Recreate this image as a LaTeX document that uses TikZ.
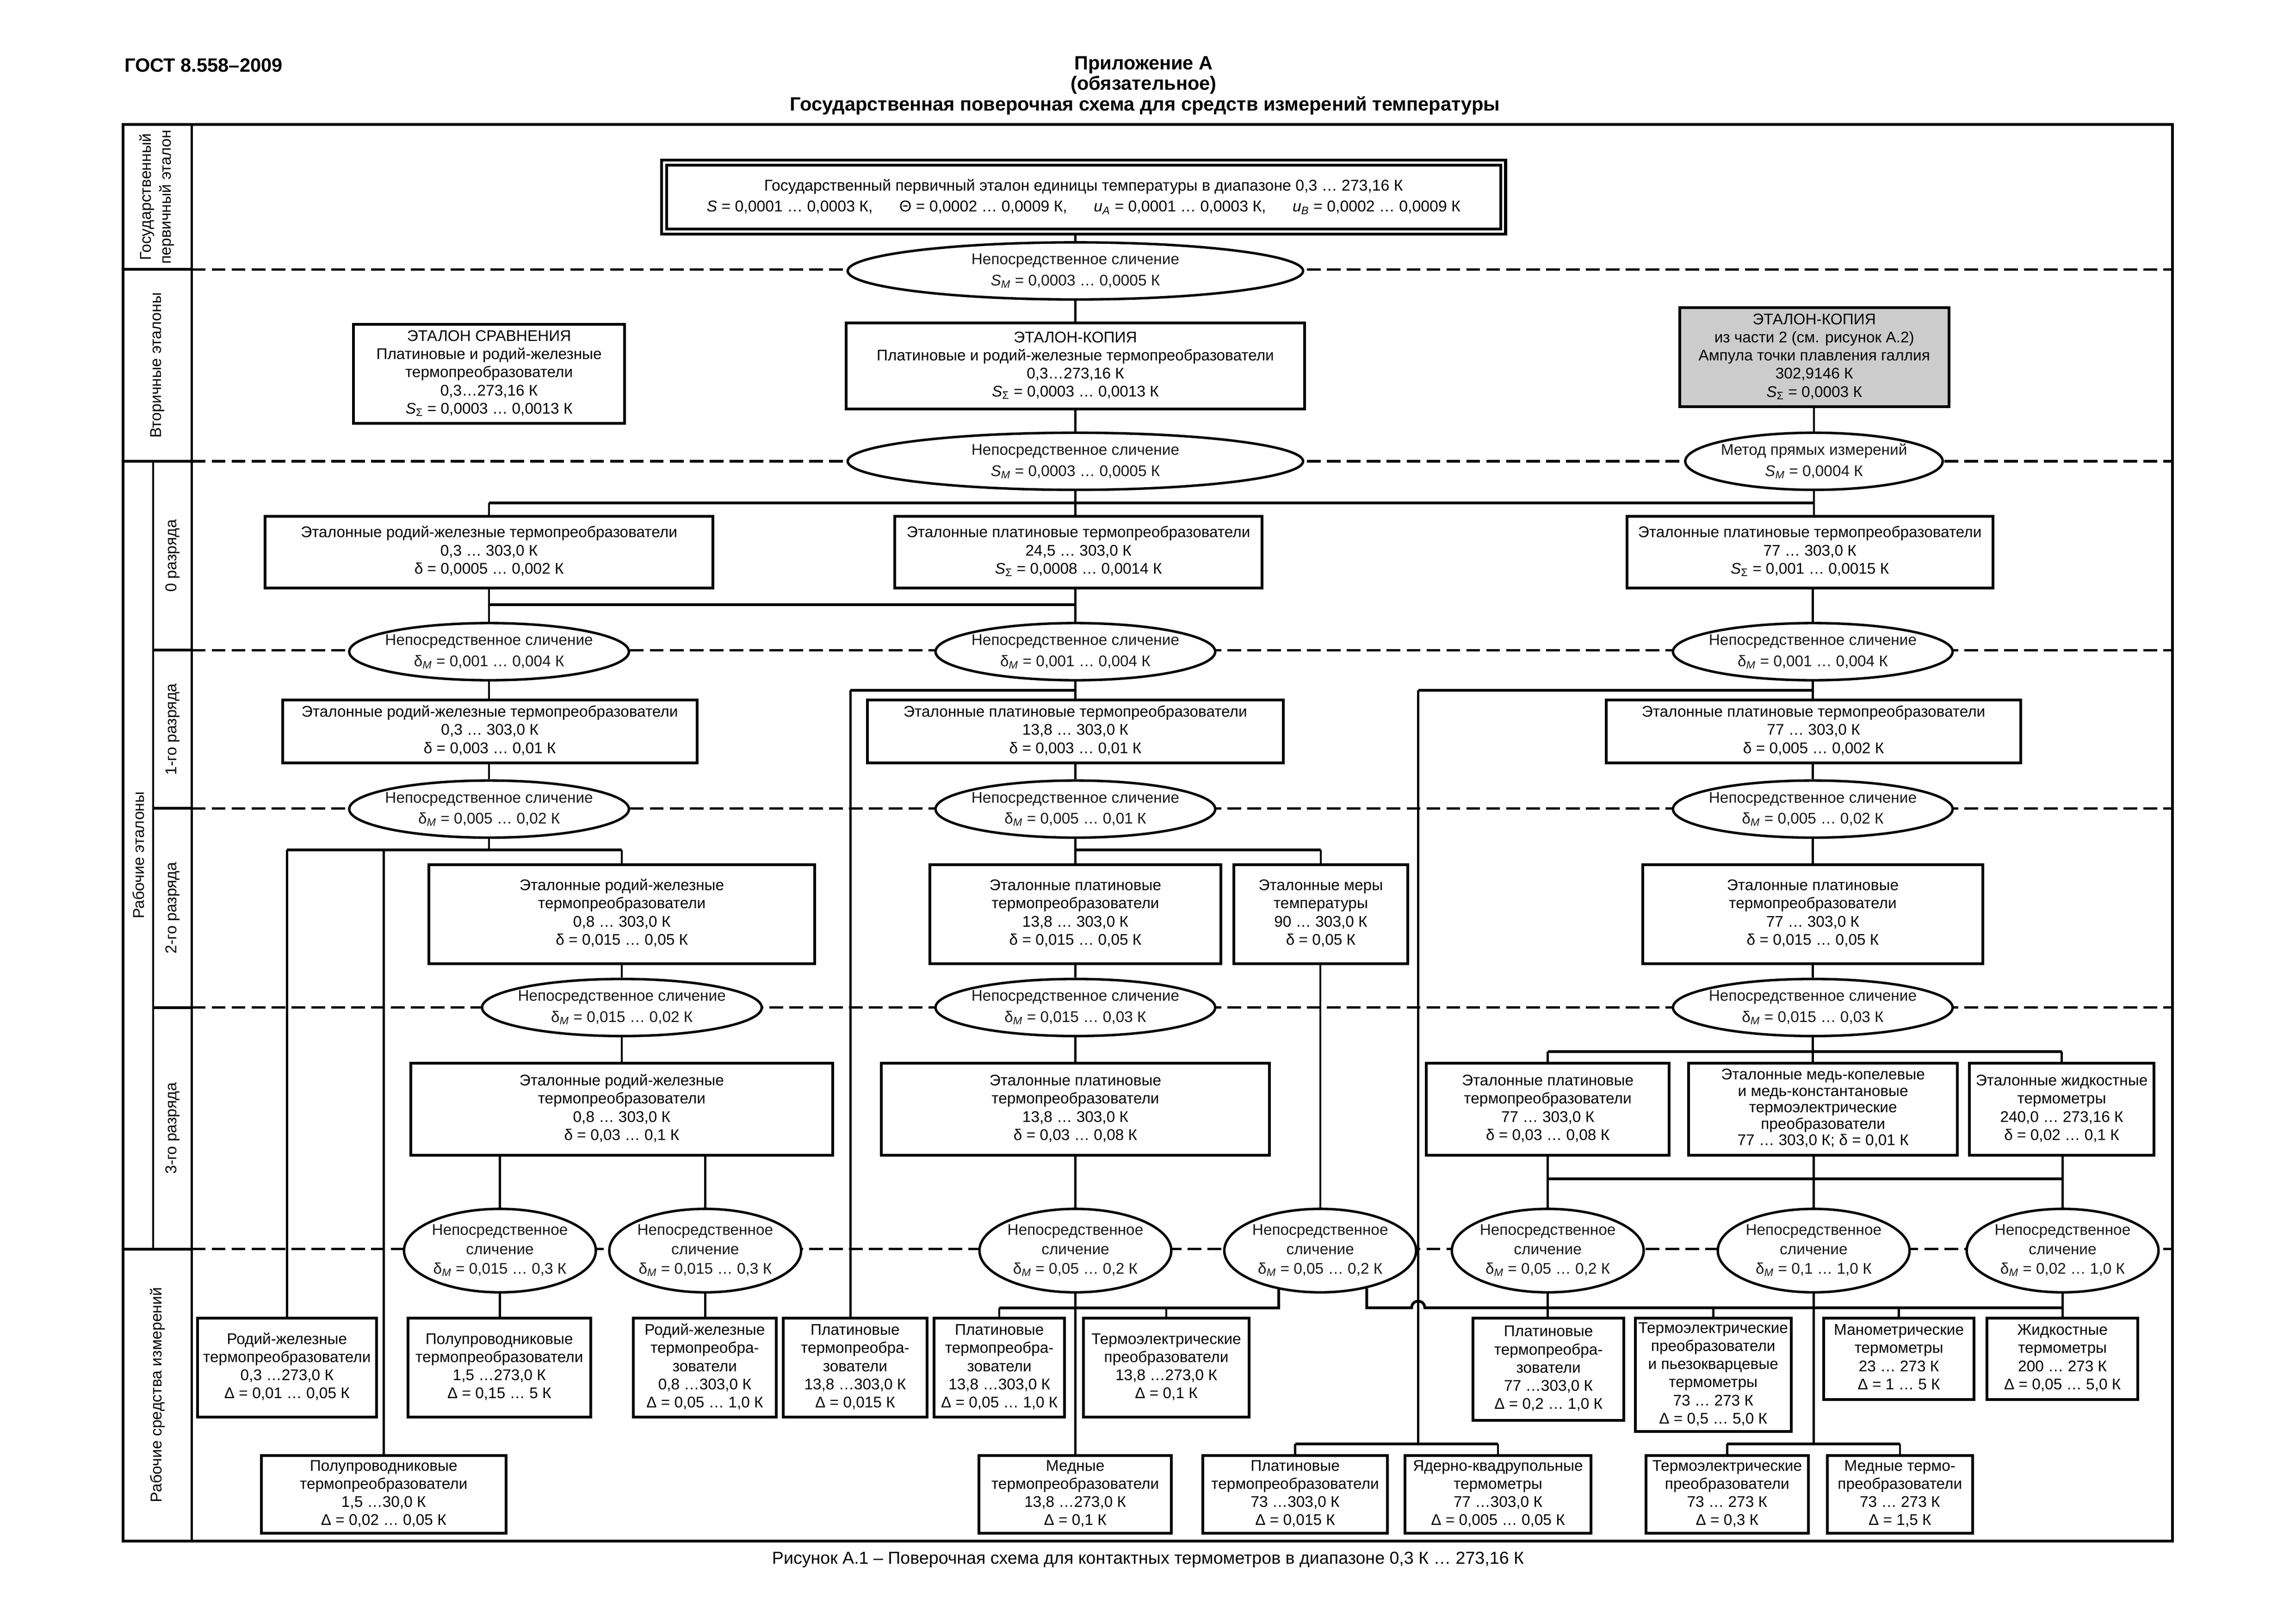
\documentclass[tikz,border=0pt]{standalone}
\usepackage{fontspec}
\setmainfont{Liberation Sans}
\usetikzlibrary{shapes.geometric,calc}
\newcommand{\tb}[1]{\makebox[0pt]{\begin{tabular}{@{}c@{}}#1\end{tabular}}}
\newcommand{\smeas}{\textit{S}\textsubscript{\textit{M}}}
\newcommand{\dmeas}{δ\textsubscript{\textit{M}}}
\newcommand{\ssum}{\textit{S}\textsubscript{Σ}}
\newcommand{\bxfont}{\fontsize{15}{17.6}\selectfont}
\newcommand{\ovfont}{\fontsize{15}{20.6}\selectfont}
\newcommand{\sdfont}{\fontsize{15.2}{19.5}\selectfont}
\newcommand{\hdfont}{\bfseries\fontsize{18.7}{20}\selectfont}
\begin{document}
\begin{tikzpicture}[x=0.5mm,y=0.5mm]
	\tikzstyle{every node}+=[inner sep=0pt]
	\tikzstyle{head}=[font=\hdfont]
	\tikzstyle{box}=[draw, line width=2.7pt, fill=white, font=\bxfont]
	\tikzstyle{oval}=[draw, ellipse, line width=2.4pt, fill=white, inner ysep=-6pt, font=\ovfont, text=black!90]
	\tikzstyle{ring}=[oval, font=\fontsize{15}{18.9}\selectfont]
	\tikzset{sz/.style 2 args={minimum width=#1*0.5mm, minimum height=#2*0.5mm}}
	\tikzstyle{stem}=[line width=2pt]
	\tikzstyle{bus}=[line width=2.7pt]
	\tikzstyle{rowline}=[line width=2.3pt, dash pattern=on 4.7mm off 2.1mm]
	\tikzstyle{side}=[rotate=90, align=center, font=\sdfont]
	\useasboundingbox (0,0) rectangle (1568,-1108.3);
	\node [head, anchor=west] (gost) at (85,-44.5) {ГОСТ 8.558–2009};
	\node [head] (app) at (781,-44.5) {Приложение А};
	\node [head] (oblig) at (781,-58) {(обязательное)};
	\node [head] (title) at (782,-72) {Государственная поверочная схема для средств измерений температуры};
	\node [font=\fontsize{16.9}{19}\selectfont] (caption) at (784,-1065) {Рисунок А.1 – Поверочная схема для контактных термометров в диапазоне 0,3 К … 273,16 К};
	\draw [line width=2.7pt] (84,-85) rectangle (1483.5,-1052.5);
	\draw [line width=2pt] (131,-85) -- (131,-1052.5);
	\draw [line width=2pt] (104.5,-315) -- (104.5,-853);
	\foreach \y in {184,315,853}
		\draw [line width=2.7pt] (84,-\y) -- (131,-\y);
	\foreach \y in {444,552,688}
		\draw [line width=2.7pt] (104.5,-\y) -- (131,-\y);
	\foreach \y in {184,315,444,552,688,853}
		\draw [rowline] (131,-\y) -- (1483.5,-\y);
	\node [side] (lprim) at (107,-134.5) {Государственный\\первичный эталон};
	\node [side] (lsec) at (107.5,-249.5) {Вторичные эталоны};
	\node [side] (lwork) at (94.5,-584) {Рабочие эталоны};
	\node [side] (lzero) at (118,-379.5) {0 разряда};
	\node [side] (lone) at (118,-498) {1-го разряда};
	\node [side] (ltwo) at (118,-620) {2-го разряда};
	\node [side] (lthree) at (118,-770.5) {3-го разряда};
	\node [side] (lwmi) at (107.5,-952.5) {Рабочие средства измерений};
	\node [box, double, double distance=2.1pt, line width=2.8pt, sz={573}{47.2}, font=\fontsize{15.2}{20.5}\selectfont] (prim) at (740,-134.6) {\tb{Государственный первичный эталон единицы температуры в диапазоне 0,3 … 273,16 К\\\textit{S} = 0,0001 … 0,0003 К,\hspace{1.7em}Θ = 0,0002 … 0,0009 К,\hspace{1.7em}\textit{u}\textsubscript{\textit{A}} = 0,0001 … 0,0003 К,\hspace{1.7em}\textit{u}\textsubscript{\textit{B}} = 0,0002 … 0,0009 К}};
	\node [oval, sz={311}{39}] (es1) at (734.4,-185) {\tb{Непосредственное сличение\\\smeas{} = 0,0003 … 0,0005 К}};
	\node [box, sz={185}{67.7}] (cmp) at (334,-255.3) {\tb{ЭТАЛОН СРАВНЕНИЯ\\Платиновые и родий-железные\\термопреобразователи\\0,3…273,16 К\\\ssum{} = 0,0003 … 0,0013 К}};
	\node [box, sz={313}{58.7}] (cpy) at (734.4,-250) {\tb{ЭТАЛОН-КОПИЯ\\Платиновые и родий-железные термопреобразователи\\0,3…273,16 К\\\ssum{} = 0,0003 … 0,0013 К}};
	\node [box, fill=black!20, sz={184}{67.7}] (gal) at (1239,-243.9) {\tb{ЭТАЛОН-КОПИЯ\\из части 2 (см. рисунок А.2)\\Ампула точки плавления галлия\\302,9146 К\\\ssum{} = 0,0003 К}};
	\node [oval, sz={311}{39}] (es2) at (734.4,-315) {\tb{Непосредственное сличение\\\smeas{} = 0,0003 … 0,0005 К}};
	\node [oval, sz={175.8}{39}] (em) at (1238.8,-315) {\tb{Метод прямых измерений\\\smeas{} = 0,0004 К}};
	\node [box, sz={306}{49}] (r0a) at (334,-377) {\tb{Эталонные родий-железные термопреобразователи\\0,3 … 303,0 К\\δ = 0,0005 … 0,002 К}};
	\node [box, sz={251}{49}] (r0b) at (736.5,-377) {\tb{Эталонные платиновые термопреобразователи\\24,5 … 303,0 К\\\ssum{} = 0,0008 … 0,0014 К}};
	\node [box, sz={250}{49}] (r0c) at (1236,-377) {\tb{Эталонные платиновые термопреобразователи\\77 … 303,0 К\\\ssum{} = 0,001 … 0,0015 К}};
	\node [oval, sz={191}{39}] (e1a) at (334,-445) {\tb{Непосредственное сличение\\\dmeas{} = 0,001 … 0,004 К}};
	\node [oval, sz={191}{39}] (e1b) at (734.4,-445) {\tb{Непосредственное сличение\\\dmeas{} = 0,001 … 0,004 К}};
	\node [oval, sz={191}{39}] (e1c) at (1238,-445) {\tb{Непосредственное сличение\\\dmeas{} = 0,001 … 0,004 К}};
	\node [box, sz={283}{43}] (r1a) at (334.5,-499.5) {\tb{Эталонные родий-железные термопреобразователи\\0,3 … 303,0 К\\δ = 0,003 … 0,01 К}};
	\node [box, sz={284}{43}] (r1b) at (734.4,-499.5) {\tb{Эталонные платиновые термопреобразователи\\13,8 … 303,0 К\\δ = 0,003 … 0,01 К}};
	\node [box, sz={283}{43}] (r1c) at (1238.5,-499.5) {\tb{Эталонные платиновые термопреобразователи\\77 … 303,0 К\\δ = 0,005 … 0,002 К}};
	\node [oval, sz={191}{39}] (e2a) at (334,-552.5) {\tb{Непосредственное сличение\\\dmeas{} = 0,005 … 0,02 К}};
	\node [oval, sz={191}{39}] (e2b) at (734.4,-552.5) {\tb{Непосредственное сличение\\\dmeas{} = 0,005 … 0,01 К}};
	\node [oval, sz={191}{39}] (e2c) at (1238,-552.5) {\tb{Непосредственное сличение\\\dmeas{} = 0,005 … 0,02 К}};
	\node [box, sz={263.5}{67.6}] (r2a) at (424.7,-624.2) {\tb{Эталонные родий-железные\\термопреобразователи\\0,8 … 303,0 К\\δ = 0,015 … 0,05 К}};
	\node [box, sz={199}{67.6}] (r2b) at (734.4,-624.2) {\tb{Эталонные платиновые\\термопреобразователи\\13,8 … 303,0 К\\δ = 0,015 … 0,05 К}};
	\node [box, sz={119}{67.6}] (r2d) at (902,-624.2) {\tb{Эталонные меры\\температуры\\90 … 303,0 К\\δ = 0,05 К}};
	\node [box, sz={232.5}{67.6}] (r2c) at (1238,-624.2) {\tb{Эталонные платиновые\\термопреобразователи\\77 … 303,0 К\\δ = 0,015 … 0,05 К}};
	\node [oval, sz={191}{39}] (e3a) at (424.7,-688) {\tb{Непосредственное сличение\\\dmeas{} = 0,015 … 0,02 К}};
	\node [oval, sz={191}{39}] (e3b) at (734.4,-688) {\tb{Непосредственное сличение\\\dmeas{} = 0,015 … 0,03 К}};
	\node [oval, sz={191}{39}] (e3c) at (1238,-688) {\tb{Непосредственное сличение\\\dmeas{} = 0,015 … 0,03 К}};
	\node [box, sz={288}{63}] (r3a) at (424.6,-757.5) {\tb{Эталонные родий-железные\\термопреобразователи\\0,8 … 303,0 К\\δ = 0,03 … 0,1 К}};
	\node [box, sz={265}{63}] (r3b) at (734.4,-757.5) {\tb{Эталонные платиновые\\термопреобразователи\\13,8 … 303,0 К\\δ = 0,03 … 0,08 К}};
	\node [box, sz={166}{63}] (r3c) at (1057,-757.5) {\tb{Эталонные платиновые\\термопреобразователи\\77 … 303,0 К\\δ = 0,03 … 0,08 К}};
	\node [box, sz={183.5}{63}, font=\fontsize{15}{16}\selectfont] (r3d) at (1245,-757.5) {\tb{Эталонные медь-копелевые\\и медь-константановые\\термоэлектрические\\преобразователи\\77 … 303,0 К; δ = 0,01 К}};
	\node [box, sz={126}{63}] (r3e) at (1408,-757.5) {\tb{Эталонные жидкостные\\термометры\\240,0 … 273,16 К\\δ = 0,02 … 0,1 К}};
	\node [ring, sz={131}{57}] (e4a) at (341.4,-854) {\tb{Непосредственное\\сличение\\\dmeas{} = 0,015 … 0,3 К}};
	\node [ring, sz={131}{57}] (e4b) at (481.6,-854) {\tb{Непосредственное\\сличение\\\dmeas{} = 0,015 … 0,3 К}};
	\node [ring, sz={131}{57}] (e4c) at (734.4,-854) {\tb{Непосредственное\\сличение\\\dmeas{} = 0,05 … 0,2 К}};
	\node [ring, sz={131}{57}] (e4d) at (901.6,-854) {\tb{Непосредственное\\сличение\\\dmeas{} = 0,05 … 0,2 К}};
	\node [ring, sz={131}{57}] (e4e) at (1057,-854) {\tb{Непосредственное\\сличение\\\dmeas{} = 0,05 … 0,2 К}};
	\node [ring, sz={131}{57}] (e4f) at (1238.6,-854) {\tb{Непосредственное\\сличение\\\dmeas{} = 0,1 … 1,0 К}};
	\node [ring, sz={131}{57}] (e4g) at (1408.6,-854) {\tb{Непосредственное\\сличение\\\dmeas{} = 0,02 … 1,0 К}};
	\node [box, sz={122.5}{67.5}] (b1) at (196,-934) {\tb{Родий-железные\\термопреобразователи\\0,3 …273,0 К\\Δ = 0,01 … 0,05 К}};
	\node [box, sz={125}{67.5}] (b2) at (341,-934) {\tb{Полупроводниковые\\термопреобразователи\\1,5 …273,0 К\\Δ = 0,15 … 5 К}};
	\node [box, sz={97.4}{67.5}] (b3) at (481.3,-934) {\tb{Родий-железные\\термопреобра-\\зователи\\0,8 …303,0 К\\Δ = 0,05 … 1,0 К}};
	\node [box, sz={98}{67.5}] (b4) at (584,-934) {\tb{Платиновые\\термопреобра-\\зователи\\13,8 …303,0 К\\Δ = 0,015 К}};
	\node [box, sz={89}{67.5}] (b5) at (682.5,-934) {\tb{Платиновые\\термопреобра-\\зователи\\13,8 …303,0 К\\Δ = 0,05 … 1,0 К}};
	\node [box, sz={113}{67.5}] (b6) at (796.5,-934) {\tb{Термоэлектрические\\преобразователи\\13,8 …273,0 К\\Δ = 0,1 К}};
	\node [box, sz={103}{70}] (b8) at (1057.5,-935) {\tb{Платиновые\\термопреобра-\\зователи\\77 …303,0 К\\Δ = 0,2 … 1,0 К}};
	\node [box, sz={106.5}{77.5}] (b9) at (1170,-938.8) {\tb{Термоэлектрические\\преобразователи\\и пьезокварцевые\\термометры\\73 … 273 К\\Δ = 0,5 … 5,0 К}};
	\node [box, sz={102.5}{55.5}] (b10) at (1296.8,-927.8) {\tb{Манометрические\\термометры\\23 … 273 К\\Δ = 1 … 5 К}};
	\node [box, sz={103}{55.5}] (b11) at (1408.5,-927.8) {\tb{Жидкостные\\термометры\\200 … 273 К\\Δ = 0,05 … 5,0 К}};
	\node [box, sz={167}{53}] (b12) at (262,-1020.5) {\tb{Полупроводниковые\\термопреобразователи\\1,5 …30,0 К\\Δ = 0,02 … 0,05 К}};
	\node [box, sz={131.4}{53}] (b7) at (734.3,-1020.5) {\tb{Медные\\термопреобразователи\\13,8 …273,0 К\\Δ = 0,1 К}};
	\node [box, sz={126}{53}] (b13) at (884.5,-1020.5) {\tb{Платиновые\\термопреобразователи\\73 …303,0 К\\Δ = 0,015 К}};
	\node [box, sz={127}{53}] (b14) at (1023,-1020.5) {\tb{Ядерно-квадрупольные\\термометры\\77 …303,0 К\\Δ = 0,005 … 0,05 К}};
	\node [box, sz={111}{53}] (b15) at (1179.5,-1020.5) {\tb{Термоэлектрические\\преобразователи\\73 … 273 К\\Δ = 0,3 К}};
	\node [box, sz={99}{53}] (b16) at (1297.5,-1020.5) {\tb{Медные термо-\\преобразователи\\73 … 273 К\\Δ = 1,5 К}};
	\coordinate (y0) at (0,-343.5);
	\coordinate (y0b) at (0,-413);
	\coordinate (pl) at (580.8,-471.3);
	\coordinate (ql) at (968.5,-471.3);
	\coordinate (y2) at (0,-580.5);
	\coordinate (y3) at (0,-718);
	\coordinate (y3b) at (0,-805);
	\coordinate (y4) at (0,-893);
	\coordinate (y5) at (0,-986);
	\draw [stem] (es1.north |- prim.south) -- (es1.north);
	\draw [stem] (es1.south) -- (cpy.north);
	\draw [stem] (cpy.south) -- (es2.north);
	\draw [stem] (em.north |- gal.south) -- (em.north);
	\draw [bus] (r0a.north |- y0) -- (em.south |- y0);
	\draw [stem] (r0a.north |- y0) -- (r0a.north);
	\draw [stem] (es2.south) -- (es2.south |- r0b.north);
	\draw [stem] (em.south) -- (em.south |- r0c.north);
	\draw [bus] (r0a.south |- y0b) -- (e1b.north |- y0b);
	\draw [stem] (r0a.south) -- (e1a.north);
	\draw [stem] (e1b.north |- r0b.south) -- (e1b.north);
	\draw [stem] (e1c.north |- r0c.south) -- (e1c.north);
	\draw [stem] (e1a.south) -- (e1a.south |- r1a.north);
	\draw [bus] (pl) -- (e1b.south |- pl);
	\draw [bus] (ql) -- (e1c.south |- ql);
	\draw [stem] (e1b.south) -- (e1b.south |- r1b.north);
	\draw [stem] (e1c.south) -- (e1c.south |- r1c.north);
	\draw [stem] (pl) -- (pl |- b4.north);
	\draw [stem] (ql) -- (ql |- y5);
	\draw [stem] (e2a.north |- r1a.south) -- (e2a.north);
	\draw [stem] (e2b.north |- r1b.south) -- (e2b.north);
	\draw [stem] (e2c.north |- r1c.south) -- (e2c.north);
	\draw [bus] (b1.north |- y2) -- (r2a.north |- y2);
	\draw [stem] (e2a.south) -- (e2a.south |- y2);
	\draw [stem] (b1.north |- y2) -- (b1.north);
	\draw [stem] (b12.north |- y2) -- (b12.north);
	\draw [stem] (r2a.north |- y2) -- (r2a.north);
	\draw [bus] (e2b.south |- y2) -- (r2d.north |- y2);
	\draw [stem] (e2b.south) -- (e2b.south |- r2b.north);
	\draw [stem] (r2d.north |- y2) -- (r2d.north);
	\draw [stem] (e2c.south) -- (e2c.south |- r2c.north);
	\draw [stem] (e3a.north |- r2a.south) -- (e3a.north);
	\draw [stem] (e3b.north |- r2b.south) -- (e3b.north);
	\draw [stem] (e3c.north |- r2c.south) -- (e3c.north);
	\draw [stem] (e4d.north |- r2d.south) -- (e4d.north);
	\draw [stem] (e3a.south) -- (e3a.south |- r3a.north);
	\draw [stem] (e3b.south) -- (e3b.south |- r3b.north);
	\draw [stem] (e3c.south) -- (e3c.south |- r3d.north);
	\draw [bus] (r3c.north |- y3) -- (r3e.north |- y3);
	\draw [stem] (r3c.north |- y3) -- (r3c.north);
	\draw [stem] (r3e.north |- y3) -- (r3e.north);
	\draw [bus] (r3c.south |- y3b) -- (e4g.north |- y3b);
	\draw [stem] (e4e.north |- r3c.south) -- (e4e.north);
	\draw [stem] (e4f.north |- r3d.south) -- (e4f.north);
	\draw [stem] (e4g.north |- r3e.south) -- (e4g.north);
	\draw [stem] (e4a.north |- r3a.south) -- (e4a.north);
	\draw [stem] (e4b.north |- r3a.south) -- (e4b.north);
	\draw [stem] (e4c.north |- r3b.south) -- (e4c.north);
	\draw [stem] (e4a.south) -- (e4a.south |- b2.north);
	\draw [stem] (e4b.south) -- (e4b.south |- b3.north);
	\draw [bus] (b5.north |- y4) -- (e4d.-137 |- y4) -- (e4d.-137);
	\draw [stem] (b5.north |- y4) -- (b5.north);
	\draw [stem] (e4c.south) -- (e4c.south |- b7.north);
	\draw [stem] (b6.north |- y4) -- (b6.north);
	\draw [bus] (e4d.-39) -- (e4d.-39 |- y4) -- ($(ql |- y4)+(-4.5,0)$) arc (180:0:4.5) -- (e4g.south |- y4);
	\draw [stem] (e4e.south) -- (e4e.south |- b8.north);
	\draw [stem] (b9.north |- y4) -- (b9.north);
	\draw [stem] (e4f.south) -- (e4f.south |- y5);
	\draw [stem] (b10.north |- y4) -- (b10.north);
	\draw [stem] (e4g.south) -- (e4g.south |- b11.north);
	\draw [bus] (b13.north |- y5) -- (b14.north |- y5);
	\draw [stem] (b13.north |- y5) -- (b13.north);
	\draw [stem] (b14.north |- y5) -- (b14.north);
	\draw [bus] (b15.north |- y5) -- (b16.north |- y5);
	\draw [stem] (b15.north |- y5) -- (b15.north);
	\draw [stem] (b16.north |- y5) -- (b16.north);
\end{tikzpicture}
\end{document}
